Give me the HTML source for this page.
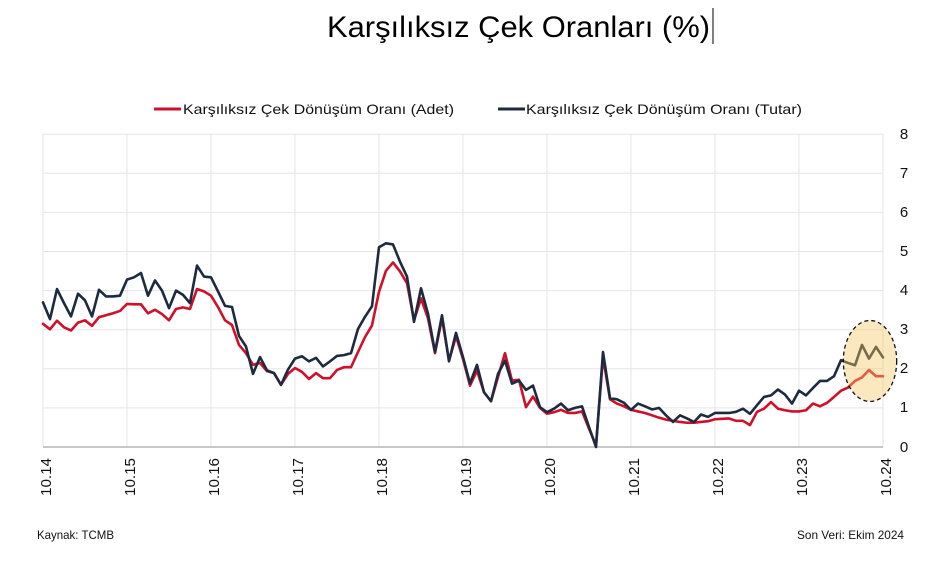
<!DOCTYPE html>
<html><head><meta charset="utf-8">
<style>
html,body{margin:0;padding:0;background:#fff;}
svg{display:block;font-family:"Liberation Sans",Arial,sans-serif;}
</style></head>
<body>
<svg width="939" height="565" viewBox="0 0 939 565" xmlns="http://www.w3.org/2000/svg">
<rect width="939" height="565" fill="#fff"/>
<!-- Title -->
<text x="327" y="37" font-size="30" fill="#000" textLength="383" lengthAdjust="spacingAndGlyphs">Karşılıksız Çek Oranları (%)</text>
<line x1="713" y1="8" x2="713" y2="44" stroke="#000" stroke-width="1"/>
<!-- Legend -->
<line x1="154" y1="109" x2="181" y2="109" stroke="#D0102B" stroke-width="3"/>
<text x="183" y="114" font-size="14" fill="#111" textLength="271" lengthAdjust="spacingAndGlyphs">Karşılıksız Çek Dönüşüm Oranı (Adet)</text>
<line x1="498" y1="109" x2="525" y2="109" stroke="#1C2B3F" stroke-width="3"/>
<text x="526" y="114" font-size="14" fill="#111" textLength="276" lengthAdjust="spacingAndGlyphs">Karşılıksız Çek Dönüşüm Oranı (Tutar)</text>
<!-- Grid -->
<g stroke="#e6e6e6" stroke-width="1">
<line x1="43" y1="134.2" x2="883" y2="134.2"/>
<line x1="43" y1="173.3" x2="883" y2="173.3"/>
<line x1="43" y1="212.4" x2="883" y2="212.4"/>
<line x1="43" y1="251.5" x2="883" y2="251.5"/>
<line x1="43" y1="290.6" x2="883" y2="290.6"/>
<line x1="43" y1="329.7" x2="883" y2="329.7"/>
<line x1="43" y1="368.8" x2="883" y2="368.8"/>
<line x1="43" y1="407.9" x2="883" y2="407.9"/>
<line x1="43" y1="134" x2="43" y2="447"/>
<line x1="127" y1="134" x2="127" y2="447"/>
<line x1="211" y1="134" x2="211" y2="447"/>
<line x1="295" y1="134" x2="295" y2="447"/>
<line x1="379" y1="134" x2="379" y2="447"/>
<line x1="463" y1="134" x2="463" y2="447"/>
<line x1="547" y1="134" x2="547" y2="447"/>
<line x1="631" y1="134" x2="631" y2="447"/>
<line x1="715" y1="134" x2="715" y2="447"/>
<line x1="799" y1="134" x2="799" y2="447"/>
<line x1="883" y1="134" x2="883" y2="447"/>
</g>
<line x1="43" y1="447" x2="883" y2="447" stroke="#a6a6a6" stroke-width="1.2"/>
<!-- Y labels -->
<g font-size="15" fill="#111" text-anchor="middle">
<text x="904" y="139">8</text>
<text x="904" y="178">7</text>
<text x="904" y="217">6</text>
<text x="904" y="256">5</text>
<text x="904" y="295">4</text>
<text x="904" y="334">3</text>
<text x="904" y="373">2</text>
<text x="904" y="412">1</text>
<text x="904" y="452">0</text>
</g>
<!-- X labels -->
<g font-size="15" fill="#111" text-anchor="end">
<text transform="translate(51,458) rotate(-90)" textLength="38" lengthAdjust="spacingAndGlyphs">10.14</text>
<text transform="translate(135,458) rotate(-90)" textLength="38" lengthAdjust="spacingAndGlyphs">10.15</text>
<text transform="translate(219,458) rotate(-90)" textLength="38" lengthAdjust="spacingAndGlyphs">10.16</text>
<text transform="translate(303,458) rotate(-90)" textLength="38" lengthAdjust="spacingAndGlyphs">10.17</text>
<text transform="translate(387,458) rotate(-90)" textLength="38" lengthAdjust="spacingAndGlyphs">10.18</text>
<text transform="translate(471,458) rotate(-90)" textLength="38" lengthAdjust="spacingAndGlyphs">10.19</text>
<text transform="translate(555,458) rotate(-90)" textLength="38" lengthAdjust="spacingAndGlyphs">10.20</text>
<text transform="translate(639,458) rotate(-90)" textLength="38" lengthAdjust="spacingAndGlyphs">10.21</text>
<text transform="translate(723,458) rotate(-90)" textLength="38" lengthAdjust="spacingAndGlyphs">10.22</text>
<text transform="translate(807,458) rotate(-90)" textLength="38" lengthAdjust="spacingAndGlyphs">10.23</text>
<text transform="translate(891,458) rotate(-90)" textLength="38" lengthAdjust="spacingAndGlyphs">10.24</text>
</g>
<!-- Series -->
<g transform="matrix(7 0 0 -39.1 43 447)" fill="none" stroke-linejoin="round" stroke-linecap="round">
<polyline vector-effect="non-scaling-stroke" stroke="#D0102B" stroke-width="2.6" points="0,3.15 1,3.01 2,3.23 3,3.06 4,2.98 5,3.18 6,3.24 7,3.10 8,3.32 9,3.37 10,3.42 11,3.48 12,3.66 13,3.65 14,3.65 15,3.42 16,3.51 17,3.40 18,3.24 19,3.53 20,3.57 21,3.53 22,4.04 23,3.98 24,3.87 25,3.58 26,3.24 27,3.12 28,2.61 29,2.40 30,2.10 31,2.15 32,1.94 33,1.89 34,1.59 35,1.87 36,2.02 37,1.92 38,1.74 39,1.89 40,1.76 41,1.76 42,1.97 43,2.04 44,2.04 45,2.43 46,2.81 47,3.11 48,3.97 49,4.51 50,4.72 51,4.49 52,4.19 53,3.24 54,3.80 55,3.29 56,2.40 57,3.29 58,2.21 59,2.83 60,2.25 61,1.57 62,1.95 63,1.40 64,1.17 65,1.79 66,2.40 67,1.70 68,1.72 69,1.02 70,1.29 71,1.00 72,0.85 73,0.89 74,0.95 75,0.87 76,0.87 77,0.91 78,0.47 79,0.04 80,2.30 81,1.22 82,1.11 83,1.04 84,0.95 85,0.91 86,0.87 87,0.81 88,0.75 89,0.70 90,0.67 91,0.64 92,0.62 93,0.62 94,0.64 95,0.66 96,0.71 97,0.72 98,0.73 99,0.67 100,0.67 101,0.56 102,0.90 103,0.98 104,1.15 105,0.98 106,0.94 107,0.91 108,0.91 109,0.94 110,1.11 111,1.04 112,1.13 113,1.28 114,1.44 115,1.52 116,1.69 117,1.78 118,1.97 119,1.81 120,1.81"/>
<polyline vector-effect="non-scaling-stroke" stroke="#1C2B3F" stroke-width="2.6" points="0,3.70 1,3.27 2,4.04 3,3.68 4,3.34 5,3.92 6,3.75 7,3.34 8,4.02 9,3.85 10,3.85 11,3.87 12,4.28 13,4.34 14,4.45 15,3.87 16,4.26 17,4.00 18,3.55 19,4.00 20,3.89 21,3.68 22,4.64 23,4.36 24,4.34 25,3.98 26,3.61 27,3.58 28,2.84 29,2.57 30,1.87 31,2.30 32,1.96 33,1.89 34,1.59 35,1.98 36,2.26 37,2.32 38,2.19 39,2.28 40,2.06 41,2.19 42,2.33 43,2.35 44,2.40 45,3.02 46,3.33 47,3.60 48,5.11 49,5.21 50,5.18 51,4.74 52,4.36 53,3.20 54,4.06 55,3.41 56,2.43 57,3.37 58,2.19 59,2.92 60,2.30 61,1.63 62,2.10 63,1.40 64,1.17 65,1.87 66,2.21 67,1.62 68,1.70 69,1.46 70,1.57 71,1.02 72,0.89 73,0.98 74,1.11 75,0.94 76,1.00 77,1.04 78,0.51 79,0.00 80,2.43 81,1.25 82,1.22 83,1.13 84,0.95 85,1.11 86,1.04 87,0.96 88,1.00 89,0.81 90,0.64 91,0.81 92,0.73 93,0.64 94,0.83 95,0.77 96,0.87 97,0.87 98,0.87 99,0.90 100,0.98 101,0.85 102,1.07 103,1.28 104,1.32 105,1.47 106,1.34 107,1.11 108,1.44 109,1.32 110,1.51 111,1.69 112,1.69 113,1.81 114,2.22 115,2.15 116,2.09 117,2.61 118,2.26 119,2.56 120,2.29"/>
</g>
<!-- Highlight ellipse -->
<ellipse cx="870" cy="361" rx="26.7" ry="40.5" fill="rgba(245,200,100,0.42)" stroke="#111" stroke-width="1.3" stroke-dasharray="4,3"/>
<!-- Footer -->
<text x="37" y="539" font-size="12" fill="#111" textLength="77" lengthAdjust="spacingAndGlyphs">Kaynak: TCMB</text>
<text x="797" y="539" font-size="12" fill="#111" textLength="107" lengthAdjust="spacingAndGlyphs">Son Veri: Ekim 2024</text>
</svg>
</body></html>
